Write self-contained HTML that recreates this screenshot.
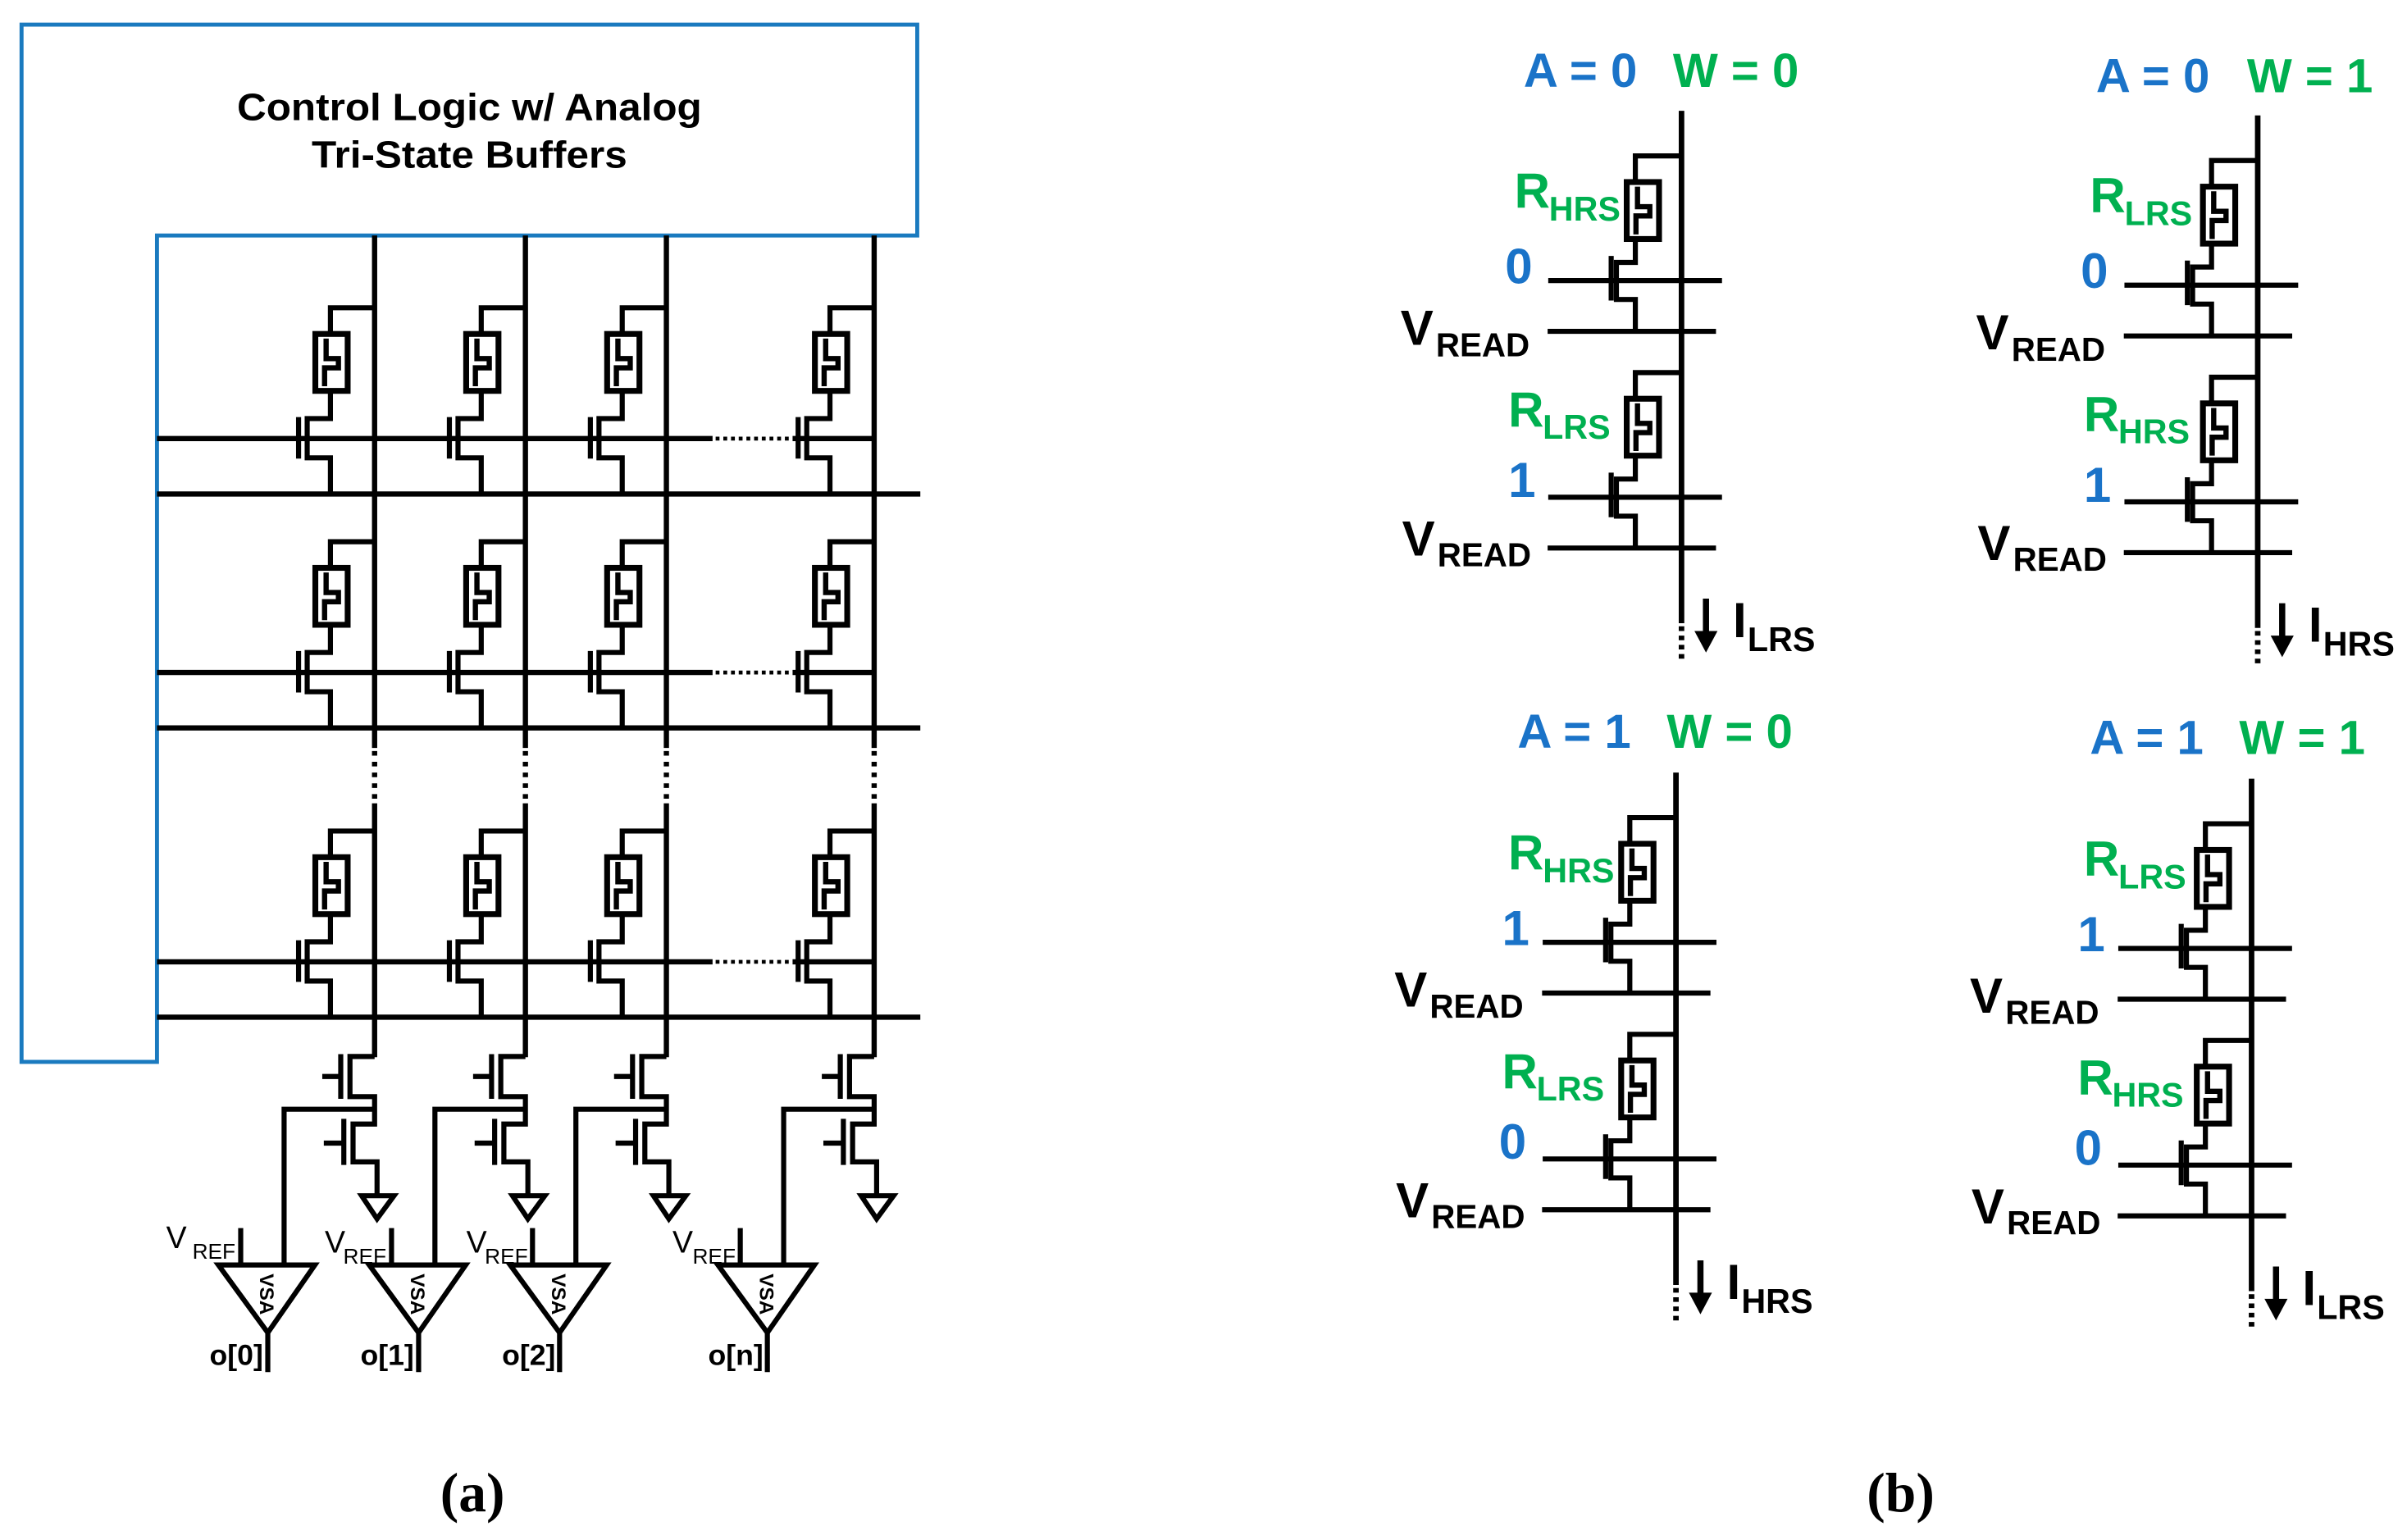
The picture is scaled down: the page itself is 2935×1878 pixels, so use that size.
<!DOCTYPE html>
<html><head><meta charset="utf-8"><style>
html,body{margin:0;padding:0;background:#fff;}
svg{display:block;}
text{font-family:"Liberation Sans",Arial,sans-serif;font-weight:bold;}
.bl{fill:#1a73c8}.gr{fill:#00b050}.bk{fill:#000}
</style></head><body>
<svg width="2935" height="1878" viewBox="0 0 1564 1000.7" preserveAspectRatio="none" xmlns="http://www.w3.org/2000/svg">
<defs>
<g id="mem" fill="none" stroke="#000">
<rect x="0" y="0" width="21" height="37" stroke-width="3.8"/>
<path d="M7,3 V16 H15 V22 H6 V34" stroke-width="3.4"/>
</g>
<g id="cellA" fill="none" stroke="#000" stroke-width="3.3">
<path d="M0,-85 H-28.7 V-68 M-28.7,-30 V-13 H-43.8 V12.5 H-28.7 V36"/>
<path d="M-49.4,-14 V13"/>
<use href="#mem" x="-38.5" y="-68"/>
</g>
<g id="cellB" fill="none" stroke="#000" stroke-width="3.3">
<path d="M0,-81 H-30 V-64 M-30,-27.7 V-11.8 H-42.3 V12.3 H-30 V33"/>
<path d="M-45.7,-16 V13"/>
<path d="M-86.6,0 H26.3 M-87,33 H22.4"/>
<use href="#mem" x="-35.6" y="-64"/>
</g>
<g id="sense" fill="none" stroke="#000" stroke-width="3.3">
<path d="M0,686.5 H-16 V712.6 H0 V730.4 H-14 V755 H1.6 V777"/>
<path d="M-22,685 V714 M-34,699.5 H-22 M-20,727 V757 M-33,742.8 H-20"/>
<path d="M0,720.8 H-58.8 V822 M-87,798 V822 M-69.4,866 V891.6"/>
<path d="M-8.4,777 H12.6 L1.6,792 Z"/>
<path d="M-101.5,822 H-38.8 L-69.4,866 Z"/>
</g>
<g id="panelB">
<path d="M0,72 V405" stroke="#000" stroke-width="3.6"/>
<path d="M0,407 V428" stroke="#000" stroke-width="3.6" stroke-dasharray="3,3"/>
<use href="#cellB" x="0" y="182.3"/>
<use href="#cellB" x="0" y="323.1"/>
<path d="M15.9,389 V411" stroke="#000" stroke-width="4"/>
<path d="M8.4,410 H23.4 L15.9,424 Z" fill="#000"/>
</g>
</defs>

<!-- Panel (a) -->
<path d="M14,16 H596 V153 H102 V690 H14 Z" fill="none" stroke="#1a7abf" stroke-width="2.6"/>
<text x="305" y="78" font-size="24.5" text-anchor="middle" textLength="302" lengthAdjust="spacingAndGlyphs">Control Logic w/ Analog</text>
<text x="305" y="109" font-size="24.5" text-anchor="middle" textLength="205" lengthAdjust="spacingAndGlyphs">Tri-State Buffers</text>

<g stroke="#000" stroke-width="3.4" fill="none">
<path d="M243.4,153 V486 M341.4,153 V486 M433,153 V486 M568,153 V486"/>
<path d="M243.4,522 V687 M341.4,522 V687 M433,522 V687 M568,522 V687"/>
<path d="M243.4,488 V521 M341.4,488 V521 M433,488 V521 M568,488 V521" stroke-dasharray="3,4"/>
<path d="M102,285 H463 M515,285 H568 M102,437 H463 M515,437 H568 M102,625 H463 M515,625 H568"/>
<path d="M465,285 H514 M465,437 H514 M465,625 H514" stroke-width="2.5" stroke-dasharray="2.5,2.5"/>
<path d="M102,321 H598 M102,473 H598 M102,661 H598"/>
</g>
<use href="#cellA" x="243.4" y="285"/><use href="#cellA" x="341.4" y="285"/><use href="#cellA" x="433" y="285"/><use href="#cellA" x="568" y="285"/>
<use href="#cellA" x="243.4" y="437"/><use href="#cellA" x="341.4" y="437"/><use href="#cellA" x="433" y="437"/><use href="#cellA" x="568" y="437"/>
<use href="#cellA" x="243.4" y="625"/><use href="#cellA" x="341.4" y="625"/><use href="#cellA" x="433" y="625"/><use href="#cellA" x="568" y="625"/>

<use href="#sense" x="243.4" y="0"/><use href="#sense" x="341.4" y="0"/><use href="#sense" x="433" y="0"/><use href="#sense" x="568" y="0"/>

<g style="font-weight:normal">
<text x="108" y="811" font-size="20" style="font-weight:normal">V</text><text x="153" y="818" font-size="14" text-anchor="end" style="font-weight:normal">REF</text>
<text x="211" y="814" font-size="20" style="font-weight:normal">V</text><text x="251" y="821" font-size="14" text-anchor="end" style="font-weight:normal">REF</text>
<text x="303" y="814" font-size="20" style="font-weight:normal">V</text><text x="343" y="821" font-size="14" text-anchor="end" style="font-weight:normal">REF</text>
<text x="437" y="814" font-size="20" style="font-weight:normal">V</text><text x="478" y="821" font-size="14" text-anchor="end" style="font-weight:normal">REF</text>
</g>
<g font-size="13">
<text transform="translate(169,841) rotate(90)" text-anchor="middle">VSA</text>
<text transform="translate(267,841) rotate(90)" text-anchor="middle">VSA</text>
<text transform="translate(358.6,841) rotate(90)" text-anchor="middle">VSA</text>
<text transform="translate(493.6,841) rotate(90)" text-anchor="middle">VSA</text>
</g>
<g font-size="19">
<text x="171" y="887" text-anchor="end">o[0]</text>
<text x="269" y="887" text-anchor="end">o[1]</text>
<text x="361" y="887" text-anchor="end">o[2]</text>
<text x="496" y="887" text-anchor="end">o[n]</text>
</g>
<text x="307" y="982" font-size="36" text-anchor="middle" style="font-family:'Liberation Serif',serif;font-weight:bold">(a)</text>
<text x="1235" y="982" font-size="36" text-anchor="middle" style="font-family:'Liberation Serif',serif;font-weight:bold">(b)</text>

<!-- Panel (b) -->
<use href="#panelB" x="1092.6" y="0"/>
<use href="#panelB" x="1467" y="3"/>
<use href="#panelB" x="1089" y="430"/>
<use href="#panelB" x="1463" y="434"/>

<g font-size="31">
<text x="990" y="56.5" class="bl">A = 0</text><text x="1087" y="56.5" class="gr">W = 0</text>
<text x="1362" y="60" class="bl">A = 0</text><text x="1460" y="60" class="gr">W = 1</text>
<text x="986" y="486" class="bl">A = 1</text><text x="1083" y="486" class="gr">W = 0</text>
<text x="1358" y="490" class="bl">A = 1</text><text x="1455" y="490" class="gr">W = 1</text>
</g>

<g font-size="32">
<text x="984" y="135" class="gr">R</text><text x="1006.5" y="143.4" font-size="22" class="gr">HRS</text>
<text x="978" y="184" class="bl">0</text>
<text x="910" y="224" class="bk">V</text><text x="933" y="231.4" font-size="21.5" class="bk">READ</text>
<text x="980" y="277.4" class="gr">R</text><text x="1002.4" y="285" font-size="22" class="gr">LRS</text>
<text x="980" y="323" class="bl">1</text>
<text x="911" y="361" class="bk">V</text><text x="934" y="368" font-size="21.5" class="bk">READ</text>
<text x="1126" y="414" class="bk">I</text><text x="1135.5" y="423" font-size="22" class="bk">LRS</text>
</g>
<g font-size="32" transform="translate(374,3)">
<text x="984" y="135" class="gr">R</text><text x="1006.5" y="143.4" font-size="22" class="gr">LRS</text>
<text x="978" y="184" class="bl">0</text>
<text x="910" y="224" class="bk">V</text><text x="933" y="231.4" font-size="21.5" class="bk">READ</text>
<text x="980" y="277.4" class="gr">R</text><text x="1002.4" y="285" font-size="22" class="gr">HRS</text>
<text x="980" y="323" class="bl">1</text>
<text x="911" y="361" class="bk">V</text><text x="934" y="368" font-size="21.5" class="bk">READ</text>
<text x="1126" y="414" class="bk">I</text><text x="1135.5" y="423" font-size="22" class="bk">HRS</text>
</g>
<g font-size="32" transform="translate(-4,430)">
<text x="984" y="135" class="gr">R</text><text x="1006.5" y="143.4" font-size="22" class="gr">HRS</text>
<text x="980" y="184" class="bl">1</text>
<text x="910" y="224" class="bk">V</text><text x="933" y="231.4" font-size="21.5" class="bk">READ</text>
<text x="980" y="277.4" class="gr">R</text><text x="1002.4" y="285" font-size="22" class="gr">LRS</text>
<text x="978" y="323" class="bl">0</text>
<text x="911" y="361" class="bk">V</text><text x="934" y="368" font-size="21.5" class="bk">READ</text>
<text x="1126" y="414" class="bk">I</text><text x="1135.5" y="423" font-size="22" class="bk">HRS</text>
</g>
<g font-size="32" transform="translate(370,434)">
<text x="984" y="135" class="gr">R</text><text x="1006.5" y="143.4" font-size="22" class="gr">LRS</text>
<text x="980" y="184" class="bl">1</text>
<text x="910" y="224" class="bk">V</text><text x="933" y="231.4" font-size="21.5" class="bk">READ</text>
<text x="980" y="277.4" class="gr">R</text><text x="1002.4" y="285" font-size="22" class="gr">HRS</text>
<text x="978" y="323" class="bl">0</text>
<text x="911" y="361" class="bk">V</text><text x="934" y="368" font-size="21.5" class="bk">READ</text>
<text x="1126" y="414" class="bk">I</text><text x="1135.5" y="423" font-size="22" class="bk">LRS</text>
</g>
</svg>
</body></html>
